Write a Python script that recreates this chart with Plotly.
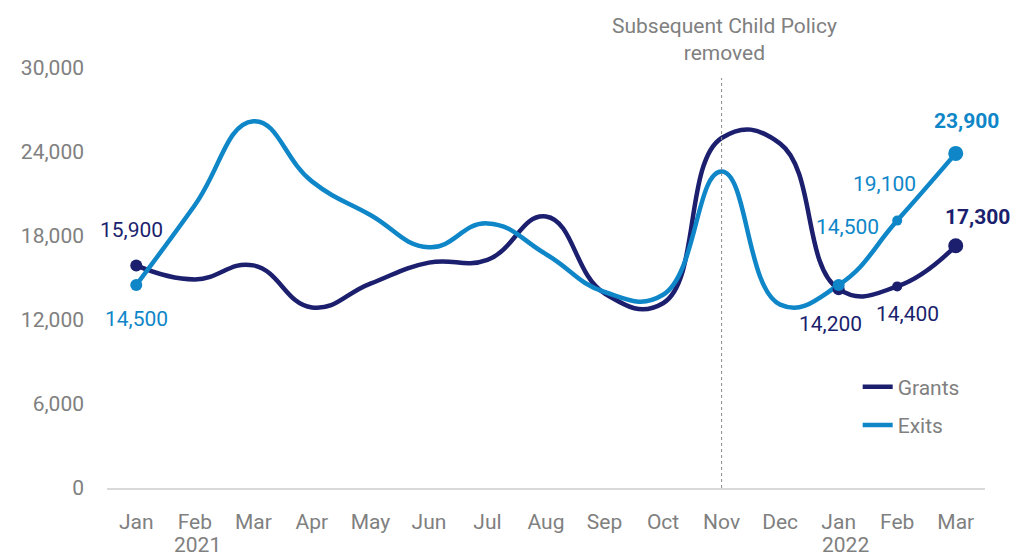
import plotly.graph_objects as go

months = ["Jan", "Feb", "Mar", "Apr", "May", "Jun", "Jul", "Aug", "Sep", "Oct", "Nov", "Dec", "Jan", "Feb", "Mar"]
years = ["2021", "2022"]
year_pos = [1, 12]
grants = [15900, 14900, 15900, 12900, 14600, 16100, 16300, 19400, 13900, 13200, 25000, 24600, 14200, 14400, 17300]
exits = [14500, 20200, 26200, 21900, 19500, 17200, 18900, 16700, 14000, 13800, 22600, 13100, 14500, 19100, 23900]
marker_idx = [0, 12, 13, 14]
marker_sizes = [12, 12, 10, 15]
policy_idx = 10
policy_text = "Subsequent Child Policy<br>removed"

# labels: (series, index, xshift, yshift, bold)
label_specs = [
    ("g", 0, -5, 35, False),
    ("e", 0, 0, -34, False),
    ("e", 12, 9, 58, False),
    ("e", 13, -13, 37, False),
    ("g", 12, -8, -35, False),
    ("g", 13, 10, -28, False),
    ("e", 14, 11, 32, True),
    ("g", 14, 22, 29, True),
]

DARK = "#1b1f6e"
LIGHT = "#0e86c8"
GREY = "#808080"
FONT = "Roboto"
FS = 21
SMOOTH = 1.3

x = list(range(len(months)))
fig = go.Figure()
fig.add_trace(go.Scatter(x=x, y=grants, mode="lines", name="Grants", legendgroup="g",
                         line=dict(color=DARK, width=4.5, shape="spline", smoothing=SMOOTH)))
fig.add_trace(go.Scatter(x=x, y=exits, mode="lines", name="Exits", legendgroup="e",
                         line=dict(color=LIGHT, width=4.5, shape="spline", smoothing=SMOOTH)))
fig.add_trace(go.Scatter(x=[x[i] for i in marker_idx], y=[grants[i] for i in marker_idx],
                         mode="markers", showlegend=False, legendgroup="g",
                         marker=dict(color=DARK, size=marker_sizes, opacity=1,
                                     line=dict(width=0))))
fig.add_trace(go.Scatter(x=[x[i] for i in marker_idx], y=[exits[i] for i in marker_idx],
                         mode="markers", showlegend=False, legendgroup="e",
                         marker=dict(color=LIGHT, size=marker_sizes, opacity=1,
                                     line=dict(width=0))))

for s, i, xs, ys, bold in label_specs:
    val = grants[i] if s == "g" else exits[i]
    col = DARK if s == "g" else LIGHT
    txt = f"{val:,}"
    if bold:
        txt = f"<b>{txt}</b>"
    fig.add_annotation(x=x[i], y=val, text=txt, showarrow=False, xshift=xs, yshift=ys,
                       font=dict(family=FONT, size=FS, color=col))

for yr, p in zip(years, year_pos):
    fig.add_annotation(x=p, y=0, yref="paper", text=yr, showarrow=False, yanchor="middle",
                       yshift=-57, xshift=(7 if p == 12 else 3),
                       font=dict(family=FONT, size=FS, color=GREY))

fig.add_shape(type="line", x0=policy_idx, x1=policy_idx, y0=0, y1=0.976, yref="paper",
              line=dict(color="#8a8a8a", width=1, dash="3px,3px"))
fig.add_annotation(x=policy_idx, y=1.067, yref="paper", text=policy_text, showarrow=False,
                   xshift=3, yanchor="middle",
                   font=dict(family=FONT, size=FS, color=GREY))

fig.update_layout(
    width=1016, height=558,
    margin=dict(l=107, r=31, t=68, b=70),
    plot_bgcolor="white", paper_bgcolor="white",
    font=dict(family=FONT, size=FS, color=GREY),
    showlegend=True,
    legend=dict(x=0.855, y=0.289, xanchor="left", yanchor="top", tracegroupgap=8,
                font=dict(family=FONT, size=FS, color=GREY),
                bgcolor="rgba(0,0,0,0)", itemwidth=30),
    xaxis=dict(range=[-0.5, 14.5], tickvals=x, ticktext=months, showgrid=False,
               zeroline=False, showline=True, linecolor="#d9d9d9", linewidth=2,
               ticks="", ticklabelstandoff=14, tickfont=dict(color=GREY, size=FS)),
    yaxis=dict(range=[0, 30000], tickvals=[0, 6000, 12000, 18000, 24000, 30000],
               tickformat=",", showgrid=False, zeroline=False, showline=False,
               ticks="", ticklabelstandoff=22, tickfont=dict(color=GREY, size=FS)),
)

fig.write_html("out.html")
